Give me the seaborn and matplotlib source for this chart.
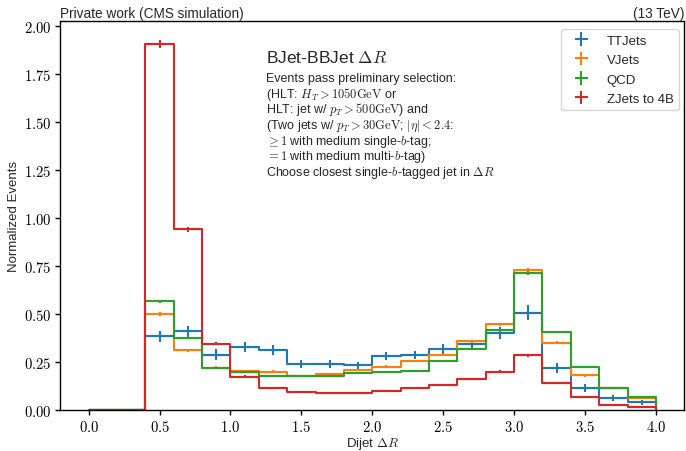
import numpy as np
import pandas as pd
import matplotlib
matplotlib.use("Agg")
import matplotlib.pyplot as plt
import seaborn as sns
from matplotlib.ticker import FuncFormatter

# ---------------- data ----------------
bin_edges = [0.0, 0.2, 0.4, 0.6, 0.8, 1.0, 1.2, 1.4, 1.6, 1.8, 2.0,
             2.2, 2.4, 2.6, 2.8, 3.0, 3.2, 3.4, 3.6, 3.8, 4.0]
series_names = ["TTJets", "VJets", "QCD", "ZJets to 4B"]
ttjets = [0, 0, 0.383, 0.409, 0.287, 0.327, 0.313, 0.240, 0.240, 0.232,
          0.280, 0.287, 0.318, 0.341, 0.402, 0.506, 0.219, 0.115, 0.061, 0.040]
vjets = [0, 0, 0.500, 0.310, 0.221, 0.204, 0.200, 0.179, 0.188, 0.206,
         0.226, 0.254, 0.287, 0.357, 0.446, 0.728, 0.350, 0.180, 0.113, 0.061]
qcd = [0, 0, 0.566, 0.376, 0.221, 0.197, 0.179, 0.177, 0.178, 0.195,
       0.197, 0.202, 0.254, 0.318, 0.414, 0.714, 0.406, 0.226, 0.113, 0.070]
zjets = [0, 0, 1.905, 0.940, 0.345, 0.174, 0.115, 0.096, 0.087, 0.088,
         0.100, 0.113, 0.132, 0.162, 0.200, 0.284, 0.139, 0.070, 0.026, 0.017]
ttjets_err = [0, 0, 0.030, 0.030, 0.028, 0.026, 0.025, 0.020, 0.020, 0.020,
              0.022, 0.022, 0.024, 0.025, 0.030, 0.038, 0.028, 0.020, 0.015, 0.012]
vjets_err = [0, 0, 0.010, 0.008, 0.006, 0.006, 0.006, 0.005, 0.005, 0.005,
             0.006, 0.006, 0.007, 0.008, 0.009, 0.012, 0.008, 0.006, 0.005, 0.004]
qcd_err = [0, 0, 0.008, 0.007, 0.005, 0.005, 0.005, 0.004, 0.004, 0.004,
           0.004, 0.005, 0.005, 0.006, 0.007, 0.010, 0.007, 0.005, 0.004, 0.003]
zjets_err = [0, 0, 0.020, 0.015, 0.008, 0.006, 0.005, 0.004, 0.004, 0.004,
             0.004, 0.005, 0.005, 0.006, 0.006, 0.008, 0.005, 0.004, 0.003, 0.002]
colors = ["#1f77b4", "#ff7f0e", "#2ca02c", "#d62728"]

values = [ttjets, vjets, qcd, zjets]
errors = [ttjets_err, vjets_err, qcd_err, zjets_err]

x_ticks = [0.0, 0.5, 1.0, 1.5, 2.0, 2.5, 3.0, 3.5, 4.0]
y_ticks = [0.0, 0.25, 0.5, 0.75, 1.0, 1.25, 1.5, 1.75, 2.0]

# ---------------- style ----------------
sns.set_theme(style="ticks")
plt.rcParams["font.family"] = ["Liberation Sans", "DejaVu Sans"]
plt.rcParams["mathtext.fontset"] = "cm"
plt.rcParams["axes.linewidth"] = 1.0

edges = np.array(bin_edges)
centers = 0.5 * (edges[:-1] + edges[1:])
halfw = 0.5 * np.diff(edges)

rows = []
for name, vals in zip(series_names, values):
    for c, v in zip(centers, vals):
        rows.append({"x": float(c), "w": float(v), "sample": name})
df = pd.DataFrame(rows)

fig = plt.figure(figsize=(6.86, 4.52), dpi=100)
ax = fig.add_axes([0.0879, 0.0907, 0.9096, 0.86])

LW = 1.5
containers = []
for name, vals, errs, col in zip(series_names, values, errors, colors):
    sub = df[df["sample"] == name].reset_index(drop=True)
    sns.histplot(data=sub, x="x", weights="w", bins=list(bin_edges),
                 element="step", fill=False, color=col, linewidth=LW,
                 ax=ax, legend=False)
    ax.vlines(edges[-1], 0, vals[-1], color=col, linewidth=LW)
    cont = ax.errorbar(centers, vals, xerr=halfw, yerr=errs, fmt="none",
                       ecolor=col, elinewidth=LW, capsize=0)
    containers.append(cont)

ax.set_xlim(-0.2, 4.2)
ax.set_ylim(0, 2.023)
ax.set_xticks(x_ticks)
ax.set_yticks(y_ticks)
ax.xaxis.set_major_formatter(FuncFormatter(lambda v, p: f"${v:.1f}$"))
ax.yaxis.set_major_formatter(FuncFormatter(lambda v, p: f"${v:.2f}$"))
ax.tick_params(axis="both", labelsize=10.5, length=3.5, width=1.0,
               colors="black", direction="out", left=True, bottom=True, pad=3)
for s in ax.spines.values():
    s.set_visible(True)
    s.set_color("black")

ax.set_xlabel("Dijet $\\Delta R$", fontsize=9.5, labelpad=1)
ax.set_ylabel("Normalized Events", fontsize=9.5, labelpad=3)

ax.set_title("Private work (CMS simulation)", loc="left", fontsize=9.8, pad=3)
ax.set_title("(13 TeV)", loc="right", fontsize=9.8, pad=3)

ax.legend(handles=containers, labels=series_names, loc="upper right",
          bbox_to_anchor=(0.9915, 0.980), borderaxespad=0.0,
          fontsize=9.5, labelspacing=0.55, handlelength=2.3,
          frameon=True, fancybox=True)

tx = 0.33
ax.text(tx, 0.896, "BJet-BBJet $\\Delta R$", transform=ax.transAxes,
        fontsize=12.5, va="baseline", ha="left")
lines = [
    "Events pass preliminary selection:",
    "(HLT: $H_T > 1050\\mathrm{GeV}$ or",
    "HLT: jet w/ $p_T > 500\\mathrm{GeV}$) and",
    "(Two jets w/ $p_T > 30\\mathrm{GeV}$; $|\\eta| < 2.4$:",
    "$\\geq 1$ with medium single-$b$-tag;",
    "$= 1$ with medium multi-$b$-tag)",
    "Choose closest single-$b$-tagged jet in $\\Delta R$",
]
y0 = 0.846
dy = 0.0403
for i, ln in enumerate(lines):
    ax.text(tx, y0 - i * dy, ln, transform=ax.transAxes, fontsize=9.0,
            va="baseline", ha="left")

fig.savefig("out.png", dpi=100)
